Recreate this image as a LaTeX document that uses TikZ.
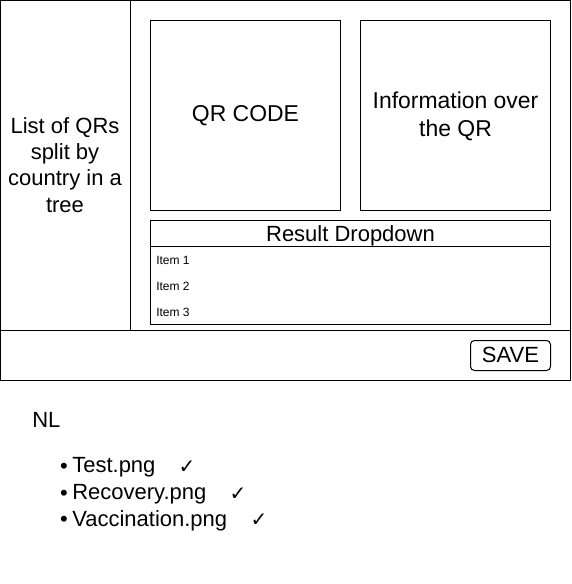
\documentclass[tikz,border=0pt]{standalone}
\usepackage{fontspec}
\setmainfont{Liberation Sans}
\newfontfamily\symfont{DejaVu Sans}
\begin{document}
\begin{tikzpicture}[x=0.75pt,y=-0.75pt,
  frame/.style={draw=black,line width=0.75pt},
  big/.style={font=\fontsize{16.5}{19.7}\selectfont,align=center,inner sep=0pt},
  large/.style={font=\fontsize{17.2}{21}\selectfont,align=center,inner sep=0pt},
  small/.style={font=\fontsize{9}{10}\selectfont,inner sep=0pt,anchor=west},
  lst/.style={font=\fontsize{16.5}{18}\selectfont,inner sep=0pt,anchor=west},
  bul/.style={font=\fontsize{16.5}{18}\selectfont,inner sep=0pt},
  chk/.style={font=\symfont\fontsize{15}{17}\selectfont,inner sep=0pt}]
\useasboundingbox (0,0) rectangle (571,584);
\draw[frame] (0.5,0.5) coordinate (outerTL) rectangle (570.5,380.5) coordinate (outerBR);
\coordinate (vtop) at (130.5,0.5);
\coordinate (vbot) at (130.5,330.5);
\coordinate (hl) at (0.5,330.5);
\coordinate (hr) at (570.5,330.5);
\draw[frame] (vtop) -- (vbot);
\draw[frame] (hl) -- (hr);
\node[big] (list) at (65,165) {List of QRs\\split by\\country in a\\tree};
\draw[frame] (150.5,20.5) rectangle (340.5,210.5);
\node[large] (qr) at (245.5,116) {QR CODE};
\draw[frame] (360.5,20.5) rectangle (550.5,210.5);
\node[large] (info) at (455.5,116) {Information over\\the QR};
\draw[frame] (150.5,220.5) rectangle (550.5,324.5);
\coordinate (dl) at (150.5,246.5);
\coordinate (dr) at (550.5,246.5);
\draw[frame] (dl) -- (dr);
\node[big] (dd) at (350.5,235.5) {Result Dropdown};
\node[small] (i1) at (156,260) {Item 1};
\node[small] (i2) at (156,286) {Item 2};
\node[small] (i3) at (156,312) {Item 3};
\draw[frame,rounded corners=3pt] (470.5,340.5) rectangle (550.5,370.5);
\node[big] (save) at (510.5,355) {SAVE};
\node[lst] (nl) at (32,419.5) {NL};
\node[bul] (d1) at (64,468) {\textbullet};
\node[bul] (d2) at (64,495) {\textbullet};
\node[bul] (d3) at (64,521) {\textbullet};
\node[lst] (b1) at (72,467.5) {Test.png};
\node[lst] (b2) at (72,494.5) {Recovery.png};
\node[lst] (b3) at (72,520.5) {Vaccination.png};
\node[chk] (c1) at (187,467) {✓};
\node[chk] (c2) at (238,494) {✓};
\node[chk] (c3) at (259,520) {✓};
\end{tikzpicture}
\end{document}
